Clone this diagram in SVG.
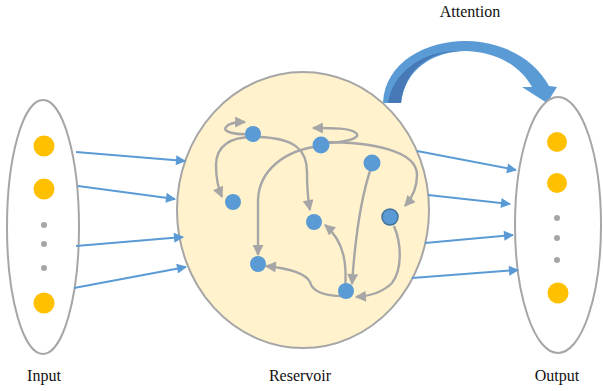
<svg xmlns="http://www.w3.org/2000/svg" width="603" height="391" viewBox="0 0 603 391">
<style>
.lbl{font-family:"Liberation Serif","Times New Roman",serif;font-size:16px;fill:#111;text-anchor:middle}
.side{fill:#fff;stroke:#a6a6a6;stroke-width:2}
.res{fill:#fff2cc;stroke:#a6a6a6;stroke-width:2}
.big{fill:#ffc000}
.sm{fill:#a6a6a6}
.node{fill:#5b9bd5}
.blue{fill:none;stroke:#5b9bd5;stroke-width:2;marker-end:url(#ab)}
.gray{fill:none;stroke:#a6a6a6;stroke-width:2.4;marker-end:url(#ag)}
</style>
<defs>
<marker id="ab" viewBox="0 0 10 10" refX="9" refY="5" markerUnits="userSpaceOnUse" markerWidth="13" markerHeight="10" orient="auto"><path d="M0,0 L10,5 L0,10 z" fill="#5b9bd5"/></marker>
<marker id="ag" viewBox="0 0 10 10" refX="9" refY="5" markerUnits="userSpaceOnUse" markerWidth="13" markerHeight="11" orient="auto"><path d="M0,0 L10,5 L0,10 z" fill="#a6a6a6"/></marker>
</defs>
<rect width="603" height="391" fill="#fff"/>
<g id="attention">
<path d="M383 103 C385 60 430 40 467 41 C505 42 535 60 549 86 L557 87 L547 103 L522 87 L532 87 C520 65 495 52 467 51 C432 51 405 70 401 103 Z" fill="#5b9bd5"/>
<path d="M388 103 C393 72 423 50 460 51 C428 52 405 70 401 103 Z" fill="#4679b6"/>
<text class="lbl" x="470" y="17">Attention</text>
</g>
<g id="input">
<ellipse class="side" cx="43" cy="227" rx="36" ry="127"/>
<circle class="big" cx="44" cy="146" r="10.5"/>
<circle class="big" cx="44" cy="189" r="10.5"/>
<circle class="sm" cx="44" cy="225" r="3"/>
<circle class="sm" cx="44" cy="244" r="3"/>
<circle class="sm" cx="44" cy="268" r="3"/>
<circle class="big" cx="44" cy="303" r="10.5"/>
<text class="lbl" x="44" y="381">Input</text>
</g>
<g id="output">
<ellipse class="side" cx="558" cy="225" rx="43" ry="128"/>
<circle class="big" cx="557" cy="142" r="10"/>
<circle class="big" cx="557" cy="183" r="10"/>
<circle class="sm" cx="557" cy="218" r="3"/>
<circle class="sm" cx="557" cy="238" r="3"/>
<circle class="sm" cx="557" cy="260" r="3"/>
<circle class="big" cx="558" cy="293" r="10.5"/>
<text class="lbl" x="557" y="381">Output</text>
</g>
<g id="reservoir">
<ellipse class="res" cx="303" cy="210" rx="126" ry="138"/>
<text class="lbl" x="300" y="381">Reservoir</text>
</g>
<g id="connectors">
<path class="blue" d="M76 152 L185 161"/>
<path class="blue" d="M78 186 L175 199"/>
<path class="blue" d="M76 246 L183 237"/>
<path class="blue" d="M74 288 L186 267"/>
<path class="blue" d="M417 151 L516 170"/>
<path class="blue" d="M428 195 L510 204"/>
<path class="blue" d="M425 243 L513 235"/>
<path class="blue" d="M412 278 L518 270"/>
<path class="gray" d="M252 134 C235 135 222 132 226 127 C229 123 236 122 245 122"/>
<path class="gray" d="M322 143 C345 143 362 138 356 133 C351 128 333 128 313 128"/>
<path class="gray" d="M252 137 C232 137 216 145 216 165 C216 180 218 188 222 197"/>
<path class="gray" d="M258 137 C295 138 307 150 307 172 C307 190 308 200 310 210"/>
<path class="gray" d="M320 146 C285 150 259 170 258 200 L258 255"/>
<path class="gray" d="M323 142 C370 142 417 150 417 175 C417 188 412 198 405 206"/>
<path class="gray" d="M371 168 C360 200 355 240 352 284"/>
<path class="gray" d="M394 226 C402 245 402 270 392 283 C383 292 370 296 356 297"/>
<path class="gray" d="M345 290 C347 265 345 242 325 225"/>
<path class="gray" d="M343 296 C320 296 312 290 310 282 C305 272 285 268 266 266"/>
</g>
<g id="n1"><circle class="node" cx="253" cy="134" r="8"/></g>
<g id="n2"><circle class="node" cx="321" cy="145" r="8.5"/></g>
<g id="n3"><circle class="node" cx="372" cy="163" r="8.5"/></g>
<g id="n4"><circle class="node" cx="233" cy="202" r="8"/></g>
<g id="n5"><circle class="node" cx="314" cy="222" r="8"/></g>
<g id="n6"><circle class="node" cx="390" cy="217" r="8" stroke="#41719c" stroke-width="1.5"/></g>
<g id="n7"><circle class="node" cx="258" cy="264" r="8"/></g>
<g id="n8"><circle class="node" cx="346" cy="291" r="8"/></g>
</svg>
